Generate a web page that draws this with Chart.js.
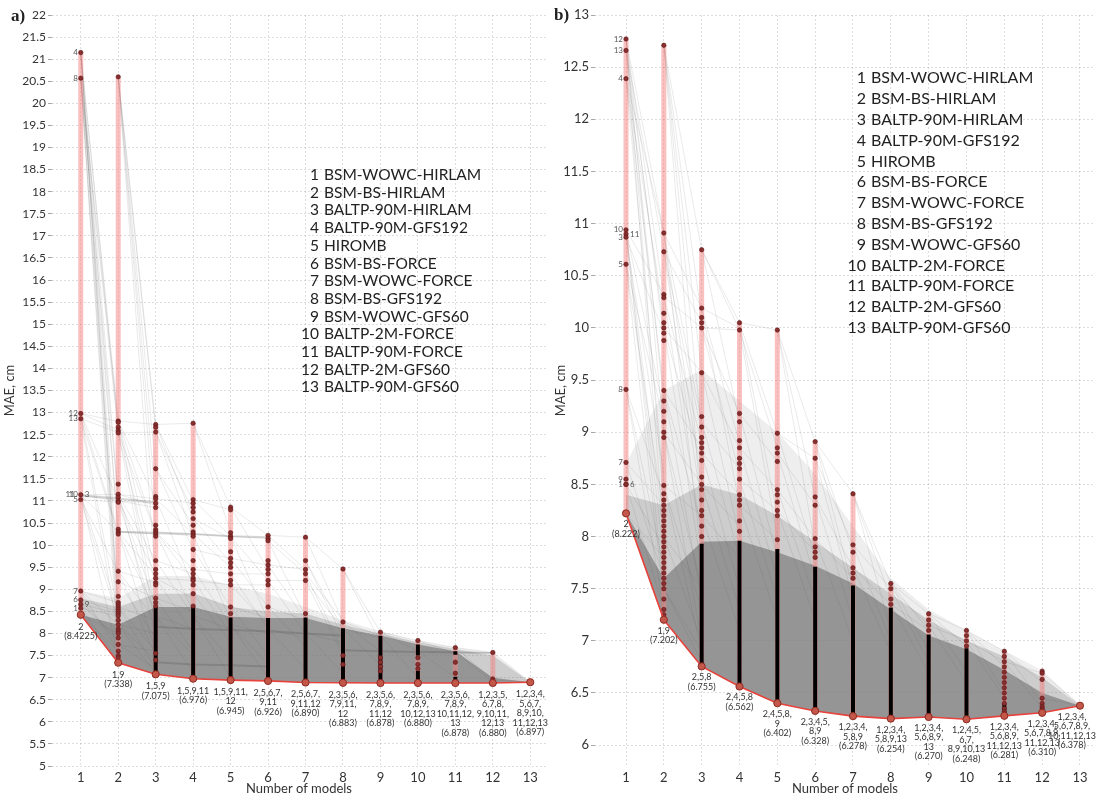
<!DOCTYPE html>
<html><head><meta charset="utf-8">
<script src="https://cdn.jsdelivr.net/npm/chart.js@4.4.1/dist/chart.umd.min.js"></script>
<style>
html,body{margin:0;padding:0;background:#fff;}
#wrap{position:relative;width:1101px;height:797px;overflow:hidden;background:#fff;}
#ca{position:absolute;left:0;top:0;}
#cb{position:absolute;left:551px;top:0;}
</style></head><body>
<div id="wrap"><canvas id="ca" width="551" height="797"></canvas><canvas id="cb" width="550" height="797"></canvas></div>
<script>
// ---------- data ----------
const xTickVals = [1,2,3,4,5,6,7,8,9,10,11,12,13];
const yTicksA = [5,5.5,6,6.5,7,7.5,8,8.5,9,9.5,10,10.5,11,11.5,12,12.5,13,13.5,14,14.5,15,15.5,16,16.5,17,17.5,18,18.5,19,19.5,20,20.5,21,21.5,22];
const yTicksB = [6,6.5,7,7.5,8,8.5,9,9.5,10,10.5,11,11.5,12,12.5,13];
const modelNames = ["BSM-WOWC-HIRLAM","BSM-BS-HIRLAM","BALTP-90M-HIRLAM","BALTP-90M-GFS192","HIROMB","BSM-BS-FORCE","BSM-WOWC-FORCE","BSM-BS-GFS192","BSM-WOWC-GFS60","BALTP-2M-FORCE","BALTP-90M-FORCE","BALTP-2M-GFS60","BALTP-90M-GFS60"];

// best (minimum) MAE per number of models
const minA = [8.4225,7.338,7.075,6.976,6.945,6.926,6.890,6.883,6.878,6.880,6.878,6.880,6.897];
const minB = [8.222,7.202,6.755,6.562,6.402,6.328,6.278,6.254,6.270,6.248,6.281,6.310,6.378];
// worst (maximum) MAE per number of models
const maxA = [21.15,20.60,12.73,12.76,10.86,10.24,10.18,9.46,8.03,7.84,7.68,7.57,6.897];
const maxB = [12.77,12.71,10.75,10.05,9.98,8.91,8.41,7.55,7.26,7.10,6.90,6.71,6.378];

// best combinations (labels under red line)
const comboA = [["2","(8.4225)"],["1,9","(7.338)"],["1,5,9","(7.075)"],["1,5,9,11","(6.976)"],["1,5,9,11,","12","(6.945)"],["2,5,6,7,","9,11","(6.926)"],["2,5,6,7,","9,11,12","(6.890)"],["2,3,5,6,","7,9,11,","12","(6.883)"],["2,3,5,6,","7,8,9,","11,12","(6.878)"],["2,3,5,6,","7,8,9,","10,12,13","(6.880)"],["2,3,5,6,","7,8,9,","10,11,12,","13","(6.878)"],["1,2,3,5,","6,7,8,","9,10,11,","12,13","(6.880)"],["1,2,3,4,","5,6,7,","8,9,10,","11,12,13","(6.897)"]];
const comboB = [["2","(8.222)"],["1,9","(7.202)"],["2,5,8","(6.755)"],["2,4,5,8","(6.562)"],["2,4,5,8,","9","(6.402)"],["2,3,4,5,","8,9","(6.328)"],["1,2,3,4,","5,8,9","(6.278)"],["1,2,3,4,","5,8,9,13","(6.254)"],["1,2,3,4,","5,6,8,9,","13","(6.270)"],["1,2,4,5,","6,7,","8,9,10,13","(6.248)"],["1,2,3,4,","5,6,8,9,","11,12,13","(6.281)"],["1,2,3,4,","5,6,7,8,9,","11,12,13","(6.310)"],["1,2,3,4,","5,6,7,8,9,","10,11,12,13","(6.378)"]];

// single models (column 1) with their numbers
const col1LabelsA = ["4","8","12","13","11","10","3","5","7","6","9","1"];
const col1ValuesA = [21.15,20.57,12.98,12.86,11.14,11.14,11.14,11.03,8.96,8.76,8.66,8.57];
const col1SidesA  = ["l","l","l","l","L","l","r","l","l","l","r","l"];
const col1LabelsB = ["12","13","4","10","11","3","5","8","7","9","1","6"];
const col1ValuesB = [12.77,12.66,12.39,10.94,10.90,10.87,10.61,9.41,8.71,8.55,8.50,8.50];
const col1SidesB  = ["l","l","l","l","r","l","l","l","l","l","l","r"];

// visible individual points per column (1..13)
const dotsA = [
 [21.15,20.57,12.98,12.86,11.14,11.03,8.96,8.76,8.66,8.57],
 [20.60,12.81,12.78,12.67,12.59,12.54,11.38,11.15,11.08,11.0,10.97,10.36,10.30,10.25,9.41,9.17,8.84,8.70,8.65,8.60,8.55,8.50,8.45,8.40,8.30,8.20,8.10,8.05,8.00,7.90,7.75,7.60,7.50,7.45],
 [12.73,12.67,12.56,11.73,11.10,11.05,10.95,10.85,10.45,10.35,10.30,10.25,10.20,9.65,9.45,9.35,9.25,9.15,9.10,8.80,8.70,8.62,7.55,7.40],
 [12.76,11.03,10.95,10.85,10.75,10.60,10.45,10.30,10.25,10.20,9.90,9.65,9.45,9.35,9.25,9.20,9.10,8.90,8.62],
 [10.86,10.80,10.28,10.20,10.15,9.85,9.70,9.60,9.50,9.35,9.20,9.10,8.60,8.45],
 [10.22,10.15,10.10,9.65,9.55,9.45,9.35,9.20,9.10,8.60],
 [10.18,9.65,9.45,9.35,9.20,8.45],
 [9.46,8.26,7.50,7.30],
 [8.03,7.45,7.35,7.25,7.15],
 [7.84,7.45,7.30,7.20],
 [7.68,7.35,7.10],
 [7.57,6.97,6.92],
 []
];
const dotsB = [
 [12.77,12.66,12.39,10.94,10.90,10.87,10.61,9.41,8.71,8.55,8.50,8.50],
 [12.71,10.91,10.73,10.32,10.29,10.14,10.05,10.0,9.95,9.88,9.40,9.30,9.20,9.10,9.00,8.95,8.49,8.41,8.35,8.30,8.25,8.20,8.15,8.10,8.05,8.00,7.95,7.90,7.85,7.80,7.75,7.70,7.65,7.60,7.55,7.50,7.40,7.30,7.25],
 [10.75,10.19,10.10,10.05,10.00,9.57,9.15,9.05,8.95,8.90,8.85,8.80,8.73,8.57,8.50,8.45,8.35,8.25,8.20,8.10,8.00],
 [10.05,9.98,9.18,9.10,8.92,8.85,8.75,8.70,8.65,8.55,8.40,8.35,8.30,8.15,8.05],
 [9.98,8.99,8.85,8.80,8.72,8.45,8.40,8.33,8.25,8.20,7.97],
 [8.91,8.75,8.38,8.30,7.98,7.90,7.85,7.80],
 [8.41,7.92,7.85,7.70,7.65,7.60],
 [7.55,7.50,7.40,7.35],
 [7.26,7.20,7.15,7.10],
 [7.10,7.05,7.00,6.95],
 [6.90,6.85,6.80,6.75,6.70,6.65,6.60,6.55,6.50,6.45,6.40,6.35,6.32,6.30],
 [6.71,6.69,6.63,6.45,6.40,6.37,6.35,6.33],
 []
];

// dense (black) runs of points: [column, low, high]
const blackA = [[3,7.08,8.60],[4,6.98,8.60],[5,6.95,8.36],[6,6.93,8.35],[7,6.89,8.36],[8,6.885,8.12],[9,6.88,7.95],[10,7.50,7.75],[10,6.88,7.15],[11,7.52,7.60],[11,6.88,7.02],[12,6.88,6.97]];
const blackB = [[3,6.76,7.93],[4,6.57,7.96],[5,6.41,7.88],[6,6.33,7.71],[7,6.28,7.53],[8,6.26,7.32],[9,6.27,7.06],[10,6.25,6.93],[11,6.29,6.40],[12,6.31,6.36]];

// grey mass of combination lines: upper envelopes per column (haze, medium, dense)
const bandOuterA = [8.96,8.8,9.3,9.3,9.1,8.9,8.6,8.3,8.05,7.83,7.68,7.56,6.897];
const bandMidA   = [8.8,8.6,8.9,8.9,8.6,8.5,8.45,8.2,8.0,7.8,7.65,7.5,6.897];
const bandDenseA = [8.4225,8.2,8.6,8.6,8.38,8.35,8.35,8.12,7.95,7.75,7.6,7.0,6.897];
const bandOuterB = [8.7,9.4,9.6,9.3,9.0,8.6,8.1,7.6,7.3,7.1,6.9,6.7,6.378];
const bandMidB   = [8.4,8.3,8.5,8.4,8.2,7.95,7.7,7.45,7.2,7.0,6.85,6.65,6.378];
const bandDenseB = [8.222,7.6,7.95,7.96,7.85,7.72,7.55,7.3,7.05,6.92,6.72,6.5,6.378];

// individual visible lines: [from column, from value, [to values in next column]]
const fansA = [
[1,21.15,[12.8,12.6,11.1,10.3,9.2,8.7,8.5,8.2]],[1,20.57,[12.8,12.55,11.0,10.3,8.6,8.0,7.6]],[1,12.98,[12.8,12.6,11.0,10.3,8.4]],[1,12.86,[12.55,10.25,8.0]],[1,11.14,[11.15,11.08,11.0,10.3,8.5,7.5]],[1,11.03,[10.97,9.4,8.3]],[1,8.96,[8.7,8.2,7.6]],[1,8.76,[8.5,7.8]],[1,8.66,[8.45,7.9]],[1,8.57,[8.4,7.4]],[1,8.4225,[7.338,8.0,7.6]],
[2,20.6,[12.73,12.6,11.73,11.0,10.3,9.2]],[2,12.81,[12.73,11.05,10.3,9.4,8.5]],[2,12.54,[12.56,10.25,9.1,8.2]],[2,11.15,[11.05,10.9,9.65,8.6,8.0]],[2,11.0,[10.95,10.85,9.35,8.3]],[2,10.3,[10.3,10.25,9.3,8.5,7.6]],[2,9.41,[9.15,8.3,7.5]],[2,9.17,[8.8,7.9]],[2,8.6,[8.3,7.6,7.2]],[2,8.2,[8.0,7.4,7.1]],[2,7.75,[7.6,7.2]],
[3,12.73,[12.76,11.0,10.6]],[3,12.56,[10.75,10.2]],[3,11.73,[10.45,9.9]],[3,11.05,[10.95,10.25,9.1]],[3,10.3,[10.25,10.2,9.45,9.2,8.5]],[3,9.65,[9.35,8.4]],[3,9.25,[9.2,8.8,8.0]],[3,8.8,[8.5,7.6]],[3,8.4,[8.1,7.5,7.1]],
[4,12.76,[10.86,10.3]],[4,11.03,[10.8,10.2]],[4,10.6,[10.15,9.6]],[4,10.25,[10.2,9.5,8.3]],[4,9.9,[9.7,8.6]],[4,9.45,[9.35,8.2]],[4,9.2,[9.1,8.0]],[4,8.9,[8.6,7.8]],[4,8.4,[8.1,7.4,7.0]],
[5,10.86,[10.22,9.45]],[5,10.2,[10.15,9.2,8.3]],[5,9.7,[9.55,8.6]],[5,9.35,[9.35,8.1]],[5,9.1,[9.1,8.2]],[5,8.6,[8.35,7.5]],[5,8.2,[8.0,7.3,7.0]],
[6,10.22,[10.18,9.45]],[6,10.1,[8.38,9.35]],[6,9.55,[9.45,8.3]],[6,9.2,[9.2,8.0]],[6,8.6,[8.3,7.7]],[6,8.1,[7.9,7.2]],
[7,10.18,[9.46,8.26]],[7,9.65,[8.1,7.9]],[7,9.35,[8.3,7.6]],[7,9.2,[8.1,7.5]],[7,8.0,[7.8,7.1]],
[8,9.46,[8.03,7.8]],[8,8.26,[7.95,7.6]],[8,8.1,[7.9,7.3]],
[9,8.03,[7.84,7.6]],[9,7.95,[7.75,7.0]],
[10,7.84,[7.68,7.55]],[10,7.6,[7.58,7.0]],
[11,7.68,[7.57,6.95]],[11,7.58,[7.57,6.9]],
[12,7.57,[6.897]],[12,6.95,[6.897]]
];
const streaksA = [
[1,11.12,[11.05]],[2,11.05,[10.97]],[2,10.3,[10.27]],[3,10.27,[10.25]],[4,10.25,[10.2]],[5,10.2,[10.18]],
[3,8.15,[8.1]],[4,8.1,[8.08]],[5,8.08,[8.05]],[6,8.05,[8.0]],[7,8.0,[7.95]],
[8,7.62,[7.6]],[9,7.6,[7.58]],[10,7.58,[7.57]],[11,7.57,[7.56]],
[3,7.35,[7.3]],[4,7.3,[7.28]],[5,7.28,[7.25]]
];
const fansB = [
[1,12.77,[10.91,10.3,9.9,9.0,8.3]],[1,12.66,[10.73,10.0,9.3,8.0]],[1,12.39,[10.91,10.14,9.4,8.5]],[1,10.94,[10.32,9.2,8.0,7.5]],[1,10.87,[9.95,8.6,7.8]],[1,10.61,[9.1,8.2,7.4]],[1,9.41,[8.4,7.7,7.3]],[1,8.71,[8.3,7.6]],[1,8.5,[7.9,7.3]],[1,8.222,[7.202,7.8]],
[2,12.71,[10.75,10.1,9.57,9.0,8.2]],[2,10.91,[10.19,9.1,8.5,7.8]],[2,10.73,[10.05,9.0,8.3]],[2,10.3,[10.0,8.9,8.0]],[2,10.0,[9.57,8.7,7.7]],[2,9.4,[8.85,8.1,7.4]],[2,9.0,[8.5,7.5,7.0]],[2,8.49,[8.2,7.3,6.9]],[2,8.0,[7.5,7.0]],[2,7.5,[6.9,6.8]],
[3,10.75,[10.05,9.98,9.1]],[3,10.19,[10.0,8.9,8.3]],[3,10.0,[9.98,9.18,8.6]],[3,9.57,[8.85,8.0]],[3,9.1,[8.65,7.8]],[3,8.8,[8.4,7.5]],[3,8.5,[8.1,7.3]],[3,8.2,[7.8,7.1]],
[4,10.05,[9.98,8.99,8.2]],[4,9.98,[8.85,8.0]],[4,9.18,[8.72,7.8]],[4,8.85,[8.45,7.6]],[4,8.55,[8.25,7.4]],[4,8.3,[7.97,7.2]],
[5,9.98,[8.91,8.38,7.9]],[5,8.99,[8.75,7.8]],[5,8.8,[8.3,7.6]],[5,8.45,[7.98,7.4]],[5,8.25,[7.85,7.2]],
[6,8.91,[8.41,7.85,7.5]],[6,8.75,[7.92,7.4]],[6,8.38,[7.7,7.2]],[6,7.98,[7.6,7.0]],
[7,8.41,[7.55,7.4,7.1]],[7,7.92,[7.5,7.0]],[7,7.7,[7.35,6.9]],
[8,7.55,[7.26,7.1,6.9]],[8,7.5,[7.15,6.8]],[8,7.35,[7.1,6.7]],
[9,7.26,[7.1,6.95,6.7]],[9,7.15,[7.0,6.6]],
[10,7.1,[6.9,6.75,6.5]],[10,7.0,[6.8,6.45]],
[11,6.9,[6.71,6.6,6.4]],[11,6.8,[6.69,6.35]],
[12,6.71,[6.378]],[12,6.69,[6.378]],[12,6.45,[6.378]]
];
const streaksB = [];

// ---------- helpers ----------
function fanData(fans){const d=[];fans.forEach(([k,a,tos])=>tos.forEach(b=>{d.push({x:k,y:a},{x:k+1,y:b},{x:k+1,y:null});}));return d;}
function vData(list){const d=[];list.forEach(([k,lo,hi])=>{d.push({x:k,y:lo},{x:k,y:hi},{x:k,y:null});});return d;}
function colData(arr){return arr.map((v,i)=>({x:xTickVals[i],y:v}));}
function dotData(cols){const d=[];cols.forEach((vals,i)=>vals.forEach(v=>d.push({x:xTickVals[i],y:v})));return d;}

const textPlugin = {
  id:'texts',
  afterDraw(chart){
    const o=chart.options.plugins.texts; if(!o) return;
    const ctx=chart.ctx, xs=chart.scales.x, ys=chart.scales.y;
    ctx.save();
    ctx.textBaseline='middle';
    ctx.fillStyle='#333'; ctx.font=o.comboFont; ctx.textAlign='center';
    o.combos.forEach((lines,i)=>{
      const px=xs.getPixelForValue(xTickVals[i])+(i===12?o.lastDx:0);
      const py=ys.getPixelForValue(o.mins[i]);
      lines.forEach((t,j)=>ctx.fillText(t,px,py+o.comboDy+j*o.comboLH));
    });
    ctx.font=o.modelFont; ctx.fillStyle='#555';
    const px1=xs.getPixelForValue(1);
    o.c1Labels.forEach((t,i)=>{
      const py=ys.getPixelForValue(o.c1Values[i]); const s=o.c1Sides[i];
      if(s==='r'){ctx.textAlign='left';ctx.fillText(t,px1+4,py);}
      else if(s==='L'){ctx.textAlign='right';ctx.fillText(t,px1-6,py);}
      else {ctx.textAlign='right';ctx.fillText(t,px1-3,py);}
    });
    ctx.font=o.legFont; ctx.fillStyle='#222';
    modelNames.forEach((n,i)=>{
      const y=o.legY+i*o.legDY;
      ctx.textAlign='right'; ctx.fillText(String(i+1),o.legNumX,y);
      ctx.textAlign='left'; ctx.fillText(n,o.legNameX,y);
    });
    ctx.font='bold 17px "Liberation Serif", serif'; ctx.fillStyle='#222'; ctx.textAlign='left';
    ctx.fillText(o.letter,o.letterX,o.letterY);
    ctx.restore();
  }
};

function makePanel(id, P){
  const gridCol='rgba(0,0,0,0.13)';
  const ds=[
    {data:colData(P.mins),borderWidth:0,pointRadius:0,fill:false,order:30},
    {data:colData(P.outer),borderWidth:0,pointRadius:0,fill:'-1',backgroundColor:'rgba(120,120,120,0.13)',order:29},
    {data:colData(P.mins),borderWidth:0,pointRadius:0,fill:false,order:28},
    {data:colData(P.mid),borderWidth:0,pointRadius:0,fill:'-1',backgroundColor:'rgba(120,120,120,0.28)',order:27},
    {data:colData(P.mins),borderWidth:0,pointRadius:0,fill:false,order:26},
    {data:colData(P.dense),borderWidth:0,pointRadius:0,fill:'-1',backgroundColor:'rgba(125,125,125,0.7)',order:25},
    {data:fanData(P.fans),borderColor:'rgba(90,90,90,0.14)',borderWidth:0.9,pointRadius:0,spanGaps:false,order:16},
    {data:fanData(P.streaks),borderColor:'rgba(70,70,70,0.22)',borderWidth:2,pointRadius:0,spanGaps:false,order:15},
    {data:vData(P.mins.map((m,i)=>[xTickVals[i],m,P.maxs[i]])),borderColor:'rgba(245,130,130,0.5)',borderWidth:5,pointRadius:0,spanGaps:false,order:14,borderCapStyle:'butt'},
    {data:vData(P.black),borderColor:'#000',borderWidth:4,pointRadius:0,spanGaps:false,order:13,borderCapStyle:'butt'},
    {data:dotData(P.dots),showLine:false,pointRadius:2.2,pointBackgroundColor:'#8a2d2d',pointBorderColor:'#5a1a1a',pointBorderWidth:0.6,order:12},
    {data:colData(P.mins),borderColor:'#e8423c',borderWidth:1.6,pointRadius:3.6,pointBackgroundColor:'#c2574a',pointBorderColor:'#8d2a20',pointBorderWidth:1,tension:0,order:11}
  ];
  return new Chart(document.getElementById(id),{
    type:'line',
    data:{datasets:ds},
    plugins:[textPlugin],
    options:{
      responsive:false,animation:false,
      layout:{padding:{top:P.padTop,right:P.padRight,left:0,bottom:0}},
      elements:{line:{tension:0}},
      plugins:{legend:{display:false},tooltip:{enabled:false},texts:P.texts},
      scales:{
        x:{type:'linear',min:P.xmin,max:P.xmax,
           afterBuildTicks:s=>{s.ticks=xTickVals.map(v=>({value:v}));},
           afterFit:s=>{s.height=31;},
           grid:{color:gridCol,drawTicks:false},
           border:{display:false,dash:[2,2]},
           ticks:{padding:4,color:'#333',font:{size:13,family:'Lato'},callback:v=>String(v)},
           title:{display:true,text:'Number of models',color:'#333',padding:{top:0,bottom:0},font:{size:13,family:'Lato'}}},
        y:{type:'linear',min:P.ymin,max:P.ymax,
           afterBuildTicks:s=>{s.ticks=P.yTicks.map(v=>({value:v}));},
           afterFit:s=>{s.width=P.yWidth;},
           grid:{color:gridCol,drawTicks:true,tickLength:4,tickColor:'rgba(0,0,0,0.35)'},
           border:{display:false,dash:[2,2]},
           ticks:{padding:2,color:'#333',font:{size:P.tickSize,family:'Lato'},callback:v=>String(Math.round(v*10)/10)},
           title:{display:true,text:'MAE, cm',color:'#333',padding:{top:2,bottom:0},font:{size:13,family:'Lato'}}}
      }
    }
  });
}

makePanel('ca',{mins:minA,maxs:maxA,outer:bandOuterA,mid:bandMidA,dense:bandDenseA,fans:fansA,streaks:streaksA,black:blackA,dots:dotsA,
  xmin:0.232,xmax:13.42,ymin:5,ymax:22,yTicks:yTicksA,yWidth:52,padTop:15,padRight:1,tickSize:12,
  texts:{combos:comboA,mins:minA,comboFont:'9px Lato',comboDy:12,comboLH:9.5,lastDx:0,
    modelFont:'8px Lato',c1Labels:col1LabelsA,c1Values:col1ValuesA,c1Sides:col1SidesA,
    legFont:'15.5px Lato',legY:175,legDY:17.7,legNumX:319,legNameX:324,letter:'a)',letterX:11,letterY:17}});

makePanel('cb',{mins:minB,maxs:maxB,outer:bandOuterB,mid:bandMidB,dense:bandDenseB,fans:fansB,streaks:streaksB,black:blackB,dots:dotsB,
  xmin:0.1805,xmax:13.397,ymin:5.8,ymax:13,yTicks:yTicksB,yWidth:44,padTop:15,padRight:6,tickSize:13,
  texts:{combos:comboB,mins:minB,comboFont:'9px Lato',comboDy:11,comboLH:9.5,lastDx:-8,
    modelFont:'8px Lato',c1Labels:col1LabelsB,c1Values:col1ValuesB,c1Sides:col1SidesB,
    legFont:'16px Lato',legY:78.3,legDY:20.8,legNumX:315,legNameX:320,letter:'b)',letterX:3,letterY:16}});
</script></body></html>
